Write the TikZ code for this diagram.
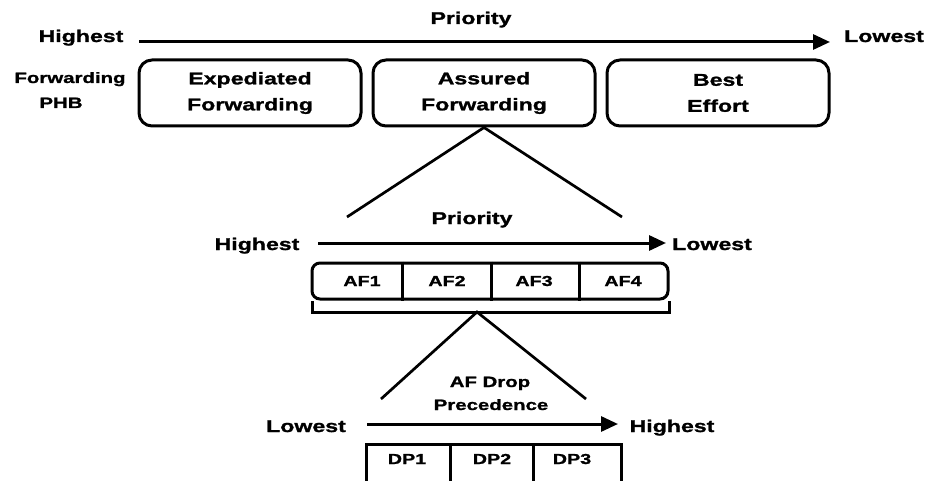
\documentclass[tikz,border=0pt]{standalone}
\usepackage{fontspec}
\setmainfont{Liberation Sans}[FakeStretch=1.36, BoldFeatures={FakeBold=1.3}]
\usetikzlibrary{arrows.meta}
\begin{document}
\begin{tikzpicture}[x=1pt,y=-1pt,
  line width=3pt,
  lbl/.style={font=\bfseries\fontsize{17}{26}\selectfont, inner sep=0pt, anchor=base},
  small/.style={font=\bfseries\fontsize{15}{25}\selectfont, inner sep=0pt, anchor=base},
  cell/.style={font=\bfseries\fontsize{14.5}{18}\selectfont, inner sep=0pt, anchor=base},
  phbbox/.style={draw, rounded corners=13pt, minimum width=222pt, minimum height=66pt,
    align=center, inner sep=0pt, font=\bfseries\fontsize{17}{26}\selectfont},
  prioarrow/.style={-{Triangle[length=17pt,width=15pt]}},
  fan/.style={line width=2.7pt}
]
\useasboundingbox (0,0) rectangle (933,481);
\clip (0,0) rectangle (933,481);

% ---- top level: forwarding per-hop behaviours ----
\node[lbl] (prio1) at (471,24) {Priority};
\node[lbl] (hi1) at (81,42) {Highest};
\node[lbl] (lo1) at (884,42) {Lowest};
\coordinate (a1s) at (139,42);
\coordinate (a1e) at (830,42);
\draw[prioarrow] (a1s) -- (a1e);

\node[small] (fwd) at (70,83) {Forwarding};
\node[small] (phb) at (61,108) {PHB};

\node[phbbox] (ef) at (250,93) {Expediated\\Forwarding};
\node[phbbox] (af) at (484,93) {Assured\\Forwarding};
\node[phbbox] (be) at (718,93) {Best\\Effort};

% ---- fan-out to the AF classes ----
\coordinate (f1l) at (347,217);
\coordinate (f1r) at (622,217);
\draw[fan] (f1l) -- (af.south) -- (f1r);

\node[lbl] (prio2) at (472,224) {Priority};
\node[lbl] (hi2) at (257,250) {Highest};
\node[lbl] (lo2) at (712,250) {Lowest};
\coordinate (a2s) at (318,243);
\coordinate (a2e) at (666,243);
\draw[prioarrow] (a2s) -- (a2e);

\node[draw, rounded corners=8pt, minimum width=356pt, minimum height=36pt, inner sep=0pt]
  (afb) at (490,281) {};
\node[cell] (af1) at (362,286) {AF1};
\node[cell] (af2) at (447,286) {AF2};
\node[cell] (af3) at (534,286) {AF3};
\node[cell] (af4) at (623,286) {AF4};
\coordinate (ad1) at (402,281);
\coordinate (ad2) at (491,281);
\coordinate (ad3) at (579,281);
\foreach \d in {ad1,ad2,ad3}
  \draw (\d |- afb.north) -- (\d |- afb.south);

% bracket gathering the four classes
\coordinate (brl) at (312,301);
\coordinate (brr) at (669,301);
\coordinate (apex2) at (477,312);
\draw (brl) -- (brl |- apex2) -- (brr |- apex2) -- (brr);

% ---- fan-out to drop precedence ----
\coordinate (f2l) at (381,399);
\coordinate (f2r) at (586,399);
\draw[fan] (f2l) -- (apex2) -- (f2r);

\node[small] (afd) at (490,387) {AF Drop};
\node[small] (prec) at (491,410) {Precedence};
\node[lbl] (lo3) at (306,432) {Lowest};
\node[lbl] (hi3) at (672,432) {Highest};
\coordinate (a3s) at (367,424);
\coordinate (a3e) at (618,424);
\draw[prioarrow] (a3s) -- (a3e);

\node[draw, minimum width=255pt, minimum height=70pt, inner sep=0pt, anchor=north west]
  (dpb) at (365,443) {};
\node[cell] (dp1) at (407,464) {DP1};
\node[cell] (dp2) at (492,464) {DP2};
\node[cell] (dp3) at (572,464) {DP3};
\coordinate (dd1) at (450,443);
\coordinate (dd2) at (533,443);
\foreach \d in {dd1,dd2}
  \draw (\d |- dpb.north) -- (\d |- dpb.south);
\end{tikzpicture}
\end{document}
